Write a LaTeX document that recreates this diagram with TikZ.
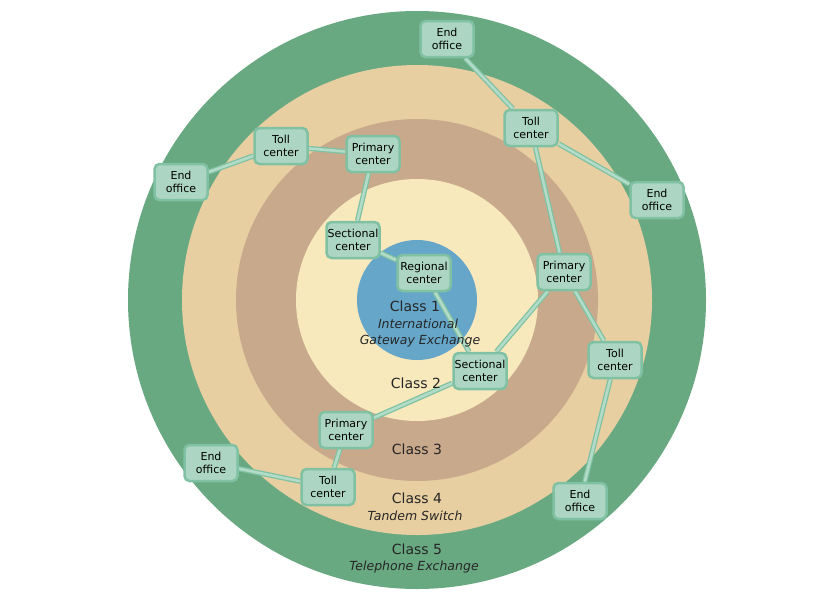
\documentclass[tikz,border=0pt]{standalone}
\usepackage{fontspec}
\setmainfont{DejaVu Sans}
\pgfdeclarelayer{ringe}
\pgfdeclarelayer{kanten}
\pgfsetlayers{ringe,kanten,main}

\definecolor{klasseFuenf}{HTML}{69A982}
\definecolor{klasseVier}{HTML}{E8CFA1}
\definecolor{klasseDrei}{HTML}{C9A98C}
\definecolor{klasseZwei}{HTML}{F8E9BD}
\definecolor{klasseEins}{HTML}{66A7C9}
\definecolor{amtFuell}{HTML}{ACD6C3}
\definecolor{amtRand}{HTML}{80C1A3}
\definecolor{kanteInnen}{HTML}{B3DCC8}

\tikzset{
  amt/.style={draw=amtRand, fill=amtFuell, line width=2.5pt, rounded corners=5pt,
    minimum width=53pt, minimum height=36pt, inner sep=1pt, align=center,
    font=\fontsize{11}{13.5}\selectfont},
  kante/.style={draw=amtRand, double=kanteInnen, line width=1.3pt, double distance=2.6pt},
  klasse/.style={font=\fontsize{14}{16}\selectfont, text=black!85},
  typ/.style={font=\fontsize{12.5}{14}\selectfont\itshape, text=black!85}
}

\begin{document}
\begin{tikzpicture}[x=1pt,y=-1pt]
	\useasboundingbox (0,0) rectangle (830,600);

	% Ringe der Klassen 5 bis 1
	\begin{pgfonlayer}{ringe}
		\fill[white] (0,0) rectangle (830,600);
		\fill[klasseFuenf] (417,300) circle[radius=289];
		\fill[klasseVier] (417,300) circle[radius=235];
		\fill[klasseDrei] (417,300) circle[radius=181];
		\fill[klasseZwei] (417,300) circle[radius=121];
		\fill[klasseEins] (417,300) circle[radius=60];
	\end{pgfonlayer}

	% Vermittlungsstellen
	\node[amt] (regional) at (424,273) {Regional\\center};
	\node[amt] (sektOben) at (353,240) {Sectional\\center};
	\node[amt] (sektUnten) at (480,371) {Sectional\\center};
	\node[amt] (primOben) at (373,154) {Primary\\center};
	\node[amt] (primRechts) at (564,272) {Primary\\center};
	\node[amt] (primUnten) at (346,430) {Primary\\center};
	\node[amt] (tollLinks) at (281,146) {Toll\\center};
	\node[amt] (tollOben) at (531,128) {Toll\\center};
	\node[amt] (tollRechts) at (615,360) {Toll\\center};
	\node[amt] (tollUnten) at (328,487) {Toll\\center};
	\node[amt] (endLinks) at (181,182) {End\\office};
	\node[amt] (endOben) at (447,39) {End\\office};
	\node[amt] (endRechts) at (657,200) {End\\office};
	\node[amt] (endRechtsUnten) at (580,501) {End\\office};
	\node[amt] (endLinksUnten) at (211,463) {End\\office};

	% Verbindungen
	\begin{pgfonlayer}{kanten}
		\draw[kante] (endLinks) -- (tollLinks);
		\draw[kante] (tollLinks) -- (primOben);
		\draw[kante] (primOben) -- (sektOben);
		\draw[kante] (sektOben) -- (regional);
		\draw[kante] (regional) -- (sektUnten);
		\draw[kante] (sektUnten) -- (primRechts);
		\draw[kante] (primRechts) -- (tollOben);
		\draw[kante] (tollOben) -- (endOben);
		\draw[kante] (tollOben) -- (endRechts);
		\draw[kante] (primRechts) -- (tollRechts);
		\draw[kante] (tollRechts) -- (endRechtsUnten);
		\draw[kante] (sektUnten) -- (primUnten);
		\draw[kante] (primUnten) -- (tollUnten);
		\draw[kante] (tollUnten) -- (endLinksUnten);
	\end{pgfonlayer}

	% Beschriftung der Klassen
	\node[klasse] (k1) at (415,306) {Class 1};
	\node[typ] (t1a) at (418,324) {International};
	\node[typ] (t1b) at (420,341) {Gateway Exchange};
	\node[klasse] (k2) at (416,383) {Class 2};
	\node[klasse] (k3) at (417,449) {Class 3};
	\node[klasse] (k4) at (417,498) {Class 4};
	\node[typ] (t4) at (415,516) {Tandem Switch};
	\node[klasse] (k5) at (417,549) {Class 5};
	\node[typ] (t5) at (414,567) {Telephone Exchange};
\end{tikzpicture}
\end{document}
